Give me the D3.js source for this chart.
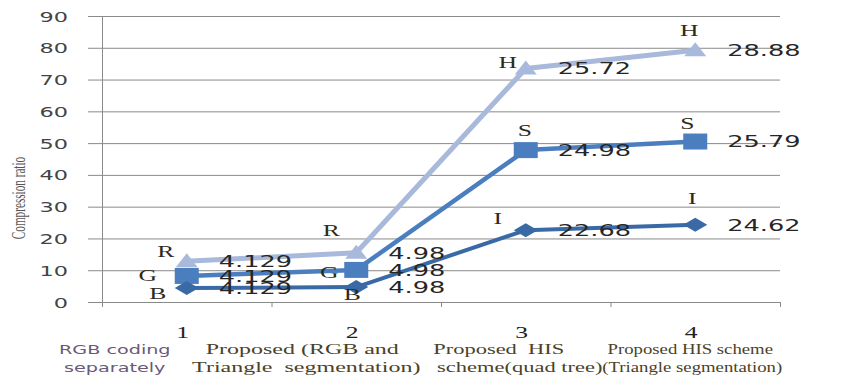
<!DOCTYPE html>
<html>
<head>
<meta charset="utf-8">
<script src="https://cdn.jsdelivr.net/npm/d3@7"></script>
<style>
  body { margin: 0; background: #fff; }
</style>
</head>
<body>
<svg id="chart"></svg>
<script>
// categories along the x axis
var categories = ["1", "2", "3", "4"]
var categoryText = [
	["RGB coding", "separately"],
	["Proposed (RGB and", "Triangle  segmentation)"],
	["Proposed  HIS", "scheme(quad tree)"],
	["Proposed HIS scheme", "(Triangle segmentation)"]
]

// plotted values
var lightValues = [12.8, 15.5, 73.5, 79.2]
var mediumValues = [8.2, 10.1, 47.8, 50.5]
var darkValues = [4.4, 4.7, 22.6, 24.3]

// point letters and printed values
var lightLetters = ["R", "R", "H", "H"]
var mediumLetters = ["G", "G", "S", "S"]
var darkLetters = ["B", "B", "I", "I"]
var lightLabels = ["4.129", "4.98", "25.72", "28.88"]
var mediumLabels = ["4.129", "4.98", "24.98", "25.79"]
var darkLabels = ["4.129", "4.98", "22.68", "24.62"]

var yTicks = [0, 10, 20, 30, 40, 50, 60, 70, 80, 90]

var dimensions = {
	width: 868,
	height: 375,
	margin: { top: 16, bottom: 73, right: 88, left: 102 }
}
var stretch = 1.6

var svg = d3.select("#chart")
	.attr("width", dimensions.width)
	.attr("height", dimensions.height)

var x0 = dimensions.margin.left
var x1 = dimensions.width - dimensions.margin.right
var yBottom = dimensions.height - dimensions.margin.bottom

var xScale = d3.scalePoint()
	.domain(categories)
	.range([x0, x1])
	.padding(0.5)

var xEdges = d3.scaleLinear()
	.domain([0, categories.length])
	.range([x0, x1])

var yScale = d3.scaleLinear()
	.domain([0, 90])
	.range([yBottom, dimensions.margin.top])

// gridlines + y axis
var yAxis = svg.append("g")
	.attr("transform", `translate(${x0},0)`)
	.call(d3.axisLeft(yScale).tickValues(yTicks).tickSize(-(x1 - x0)).tickSizeOuter(0).tickFormat(d3.format("d")))
yAxis.select(".domain").attr("stroke", "#8a8a8a")
yAxis.selectAll(".tick line").attr("x1", -14).attr("stroke", "#8a8a8a")
yAxis.selectAll(".tick text")
	.attr("x", 0)
	.attr("dy", "0.36em")
	.attr("transform", `translate(-34,0) scale(${stretch},1)`)
	.style("font-family", "DejaVu Sans")
	.style("font-size", "14px")
	.attr("fill", "#444")

// x axis
var xAxis = svg.append("g")
	.attr("transform", `translate(0,${yBottom})`)
	.call(d3.axisBottom(xEdges).ticks(4).tickSize(5).tickSizeOuter(0).tickFormat(""))
xAxis.select(".domain").attr("stroke", "#8a8a8a")
xAxis.selectAll(".tick line").attr("stroke", "#8a8a8a")

// y title (narrow, squeezed like the original)
svg.append("text")
	.attr("transform", "translate(25,198) rotate(-90) scale(0.8,1.35)")
	.attr("text-anchor", "middle")
	.style("font-family", "Liberation Serif")
	.style("font-size", "14px")
	.attr("fill", "#555")
	.text("Compression ratio")

// category labels: shift from the category centre and horizontal squeeze per line
var lineShift = [[-72, -72], [-54, -50], [-27, -6], [-5, -3]]
var lineStretch = [[stretch, stretch], [stretch, stretch], [1.5, 1.5], [1.25, 1.25]]
categories.forEach(function (c, i) {
	var cx = xScale(c)
	svg.append("text")
		.attr("transform", `translate(${cx - 4},338) scale(${stretch},1)`)
		.attr("text-anchor", "middle")
		.style("font-family", "Liberation Serif")
		.style("font-size", "16px")
		.attr("fill", "#222")
		.text(c)
	categoryText[i].forEach(function (line, j) {
		svg.append("text")
			.attr("transform", `translate(${cx + lineShift[i][j]},${354 + j * 18}) scale(${lineStretch[i][j]},1)`)
			.attr("text-anchor", "middle")
			.style("font-family", i == 0 ? "DejaVu Sans" : "Liberation Serif")
			.style("font-size", i == 0 ? "12px" : "15px")
			.style("white-space", "pre")
			.attr("fill", i == 0 ? "#6a5a78" : "#4a4228")
			.text(line)
	})
})

var line = d3.line()
	.x((d, i) => xScale(categories[i]))
	.y(d => yScale(d))

var markers = {
	triangle: "M0,-8 L11,6 L-11,6 Z",
	square: "M-12,-8 L12,-8 L12,8 L-12,8 Z",
	diamond: "M0,-7 L12,0 L0,7 L-12,0 Z"
}

var series = [
	{ values: lightValues, letters: lightLetters, labels: lightLabels, color: "#a8b9db", marker: "triangle", width: 5,
	  letterPos: [[-21, -10], [-25, -23], [-18, -6], [-6, -20]] },
	{ values: mediumValues, letters: mediumLetters, labels: mediumLabels, color: "#4a7ebe", marker: "square", width: 4.5,
	  letterPos: [[-39, -1], [-27, 2], [-1, -20], [-8, -18]] },
	{ values: darkValues, letters: darkLetters, labels: darkLabels, color: "#3a6aa6", marker: "diamond", width: 4,
	  letterPos: [[-29, 5], [-4, 7], [-28, -12], [-3, -27]] }
]

series.forEach(function (s) {
	svg.append("path")
		.datum(s.values)
		.attr("d", line)
		.style("fill", "none")
		.style("stroke", s.color)
		.style("stroke-width", s.width)
		.style("stroke-linejoin", "round")

	svg.selectAll(null)
		.data(s.values)
		.enter()
		.append("path")
		.attr("d", markers[s.marker])
		.attr("transform", (d, i) => `translate(${xScale(categories[i])},${yScale(d)})`)
		.attr("fill", s.color)
})

series.forEach(function (s) {
	svg.selectAll(null)
		.data(s.values)
		.enter()
		.append("text")
		.attr("transform", (d, i) => `translate(${xScale(categories[i]) + 32},${yScale(d)}) scale(${stretch},1)`)
		.attr("dy", "0.36em")
		.style("font-family", "DejaVu Sans")
		.style("font-size", "16px")
		.attr("fill", "#262626")
		.text((d, i) => s.labels[i])

	svg.selectAll(null)
		.data(s.values)
		.enter()
		.append("text")
		.attr("transform", (d, i) => `translate(${xScale(categories[i]) + s.letterPos[i][0]},${yScale(d) + s.letterPos[i][1]}) scale(${stretch},1)`)
		.attr("dy", "0.36em")
		.attr("text-anchor", "middle")
		.style("font-family", "Liberation Serif")
		.style("font-size", "16px")
		.attr("fill", "#2e2a18")
		.text((d, i) => s.letters[i])
})
</script>
</body>
</html>
